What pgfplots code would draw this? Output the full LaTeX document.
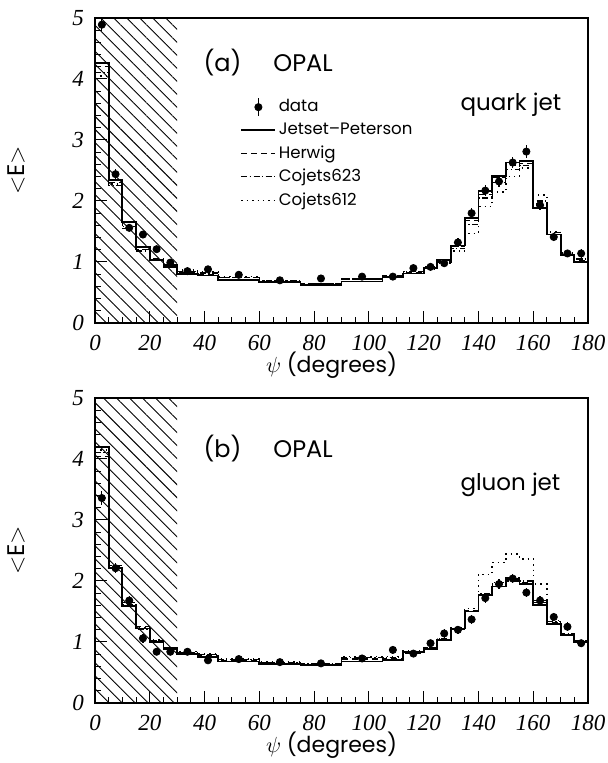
\documentclass[border=0pt]{standalone}
\usepackage{pgfplots}
\pgfplotsset{compat=1.18}
\usepackage{pgfplotstable}
\usetikzlibrary{patterns.meta}
\usepackage{fontspec}
\setmainfont{Liberation Serif}
\newfontfamily\sfont{Poppins}

% model histograms: left bin edges, last row repeats the last bin at 180
\pgfplotstableread{
e     jet   her   ca    cb
0     4.26  4.20  4.10  4.05
5     2.34  2.30  2.25  2.28
10    1.66  1.60  1.55  1.58
15    1.25  1.20  1.18  1.20
20    1.03  1.05  1.02  1.03
25    0.92  0.93  0.95  0.95
30    0.80  0.83  0.85  0.87
37.5  0.78  0.80  0.82  0.84
45    0.70  0.74  0.75  0.76
60    0.67  0.68  0.70  0.70
75    0.62  0.64  0.65  0.64
90    0.68  0.72  0.72  0.72
105   0.76  0.78  0.78  0.78
112.5 0.81  0.83  0.84  0.84
120   0.90  0.90  0.92  0.88
125   1.04  1.02  1.00  0.98
130   1.27  1.25  1.22  1.18
135   1.72  1.68  1.62  1.47
140   2.17  2.10  2.05  1.91
145   2.41  2.38  2.30  2.15
150   2.63  2.58  2.52  2.40
155   2.66  2.62  2.58  2.54
160   1.88  1.95  2.00  2.10
165   1.45  1.45  1.48  1.50
170   1.11  1.12  1.10  1.15
175   1.00  1.02  1.05  1.05
180   1.00  1.02  1.05  1.05
}\quarkmc

\pgfplotstableread{
x      y     err
2.5    4.89  0.10
7.5    2.44  0.08
12.5   1.56  0.06
17.5   1.45  0.06
22.5   1.21  0.05
27.5   0.99  0.05
33.75  0.85  0.04
41.25  0.88  0.05
52.5   0.79  0.04
67.5   0.70  0.03
82.5   0.73  0.03
97.5   0.76  0.03
108.75 0.76  0.06
116.25 0.90  0.05
122.5  0.92  0.06
127.5  0.98  0.07
132.5  1.32  0.08
137.5  1.80  0.09
142.5  2.17  0.09
147.5  2.32  0.09
152.5  2.63  0.09
157.5  2.81  0.11
162.5  1.93  0.08
167.5  1.41  0.07
172.5  1.14  0.06
177.5  1.14  0.07
}\quarkdata

\pgfplotstableread{
e     jet   her   ca    cb
0     4.20  4.04  4.10  4.15
5     2.21  2.25  2.20  2.23
10    1.59  1.65  1.62  1.60
15    1.22  1.25  1.20  1.24
20    1.00  1.02  1.02  1.03
25    0.88  0.90  0.90  0.90
30    0.80  0.82  0.83  0.84
37.5  0.76  0.78  0.80  0.80
45    0.68  0.70  0.71  0.72
60    0.64  0.66  0.66  0.67
75    0.62  0.63  0.64  0.64
90    0.68  0.72  0.74  0.76
105   0.70  0.73  0.75  0.76
112.5 0.84  0.82  0.83  0.85
120   0.88  0.90  0.90  0.90
125   1.03  1.05  1.04  1.05
130   1.22  1.22  1.20  1.23
135   1.50  1.52  1.50  1.55
140   1.77  1.78  1.80  2.11
145   1.91  1.95  1.98  2.30
150   2.03  2.00  2.05  2.44
155   1.95  1.98  2.00  2.36
160   1.61  1.65  1.68  1.95
165   1.30  1.32  1.33  1.35
170   1.11  1.12  1.13  1.12
175   1.00  1.00  1.02  1.02
180   1.00  1.00  1.02  1.02
}\gluonmc

\pgfplotstableread{
x      y     err
2.5    3.36  0.12
7.5    2.21  0.08
12.5   1.68  0.08
17.5   1.06  0.07
22.5   0.84  0.06
27.5   0.84  0.05
33.75  0.84  0.04
41.25  0.70  0.05
52.5   0.72  0.03
67.5   0.67  0.03
82.5   0.65  0.03
97.5   0.73  0.03
108.75 0.87  0.07
116.25 0.81  0.05
122.5  0.98  0.06
127.5  1.14  0.07
132.5  1.20  0.07
137.5  1.37  0.08
142.5  1.72  0.08
147.5  1.95  0.08
152.5  2.04  0.08
157.5  1.81  0.08
162.5  1.68  0.08
167.5  1.41  0.07
172.5  1.25  0.07
177.5  0.98  0.06
}\gluondata

\tikzset{lbl/.style={anchor=base west, inner sep=0pt}}

\pgfplotsset{
  opal/.style={
    scale only axis, width=246.5pt, height=152.5pt,
    xmin=0, xmax=180, ymin=0, ymax=5,
    xtick={0,20,...,180}, ytick={0,1,...,5},
    minor x tick num=3, minor y tick num=4,
    tick align=inside, xtick pos=bottom, ytick pos=left,
    major tick length=6pt, minor tick length=3pt,
    axis line style={line width=0.8pt},
    tick style={line width=0.5pt, black},
    tick label style={font=\fontsize{11.5}{12}\selectfont\itshape},
    xticklabel style={yshift=-2.5pt},
    yticklabel style={xshift=-2pt},
    /pgf/number format/assume math mode=true,
    ylabel={\sfont\fontsize{12}{12}\selectfont$<$E$>$},
    ylabel style={at={(axis description cs:-0.16,0.5)}, anchor=center},
    xlabel={\fontsize{11}{12}\selectfont$\psi$ \sfont(degrees)},
    xlabel style={at={(axis description cs:0.48,-0.138)}, anchor=center},
    clip=true,
  },
  hist/.style={const plot mark left, no marks, black},
  jet/.style={hist, line width=0.9pt},
  her/.style={hist, line width=0.6pt, dash pattern=on 3pt off 2pt},
  ca/.style={hist, line width=0.6pt, dash pattern=on 3pt off 1.2pt on 0.7pt off 1.2pt},
  cb/.style={hist, line width=0.7pt, dash pattern=on 0.7pt off 2pt},
  dat/.style={only marks, black, mark=*, mark size=1.8pt,
    error bars/.cd, y dir=both, y explicit, error mark=none,
    error bar style={line width=0.6pt}},
  hatch/.style={forget plot, draw=none,
    pattern={Lines[angle=-45, distance=4.6pt, line width=0.45pt]}},
}

\begin{document}
\begin{tikzpicture}
\useasboundingbox (0,0) rectangle (304pt,381.5pt);

\begin{axis}[opal, at={(47.5pt,220pt)}, anchor=south west,
  legend style={at={(0.282,0.755)}, anchor=north west, draw=none, fill=none,
    font=\sfont\fontsize{8.3}{9}\selectfont, row sep=1.6pt,
    nodes={inner sep=1.2pt}},
  legend cell align=left]
  \addplot[hatch] coordinates {(0,5) (30,5)} \closedcycle;
  \addplot[legend image code/.code={
      \draw[line width=0.6pt] (0.3cm,-4.5pt) -- (0.3cm,4.5pt);
      \fill (0.3cm,0) circle (1.8pt);}, dat]
    table[x=x, y=y, y error=err] {\quarkdata};
  \addlegendentry{data}
  \addplot[jet] table[x=e, y=jet] {\quarkmc};
  \addlegendentry{Jetset–Peterson}
  \addplot[her] table[x=e, y=her] {\quarkmc};
  \addlegendentry{Herwig}
  \addplot[ca] table[x=e, y=ca] {\quarkmc};
  \addlegendentry{Cojets623}
  \addplot[cb] table[x=e, y=cb] {\quarkmc};
  \addlegendentry{Cojets612}
  \node[lbl, font=\sfont\fontsize{12}{12}\selectfont] at (axis cs:39.5,4.12) {(a)};
  \node[lbl, font=\sfont\fontsize{12}{12}\selectfont] at (axis cs:65,4.12) {OPAL};
  \node[lbl, font=\sfont\fontsize{11.5}{12}\selectfont] at (axis cs:133.3,3.49) {quark jet};
\end{axis}

\begin{axis}[opal, at={(47.5pt,30pt)}, anchor=south west]
  \addplot[hatch] coordinates {(0,5) (30,5)} \closedcycle;
  \addplot[dat] table[x=x, y=y, y error=err] {\gluondata};
  \addplot[jet] table[x=e, y=jet] {\gluonmc};
  \addplot[her] table[x=e, y=her] {\gluonmc};
  \addplot[ca] table[x=e, y=ca] {\gluonmc};
  \addplot[cb] table[x=e, y=cb] {\gluonmc};
  \node[lbl, font=\sfont\fontsize{12}{12}\selectfont] at (axis cs:39.5,4.03) {(b)};
  \node[lbl, font=\sfont\fontsize{12}{12}\selectfont] at (axis cs:65,4.03) {OPAL};
  \node[lbl, font=\sfont\fontsize{11.5}{12}\selectfont] at (axis cs:133.3,3.49) {gluon jet};
\end{axis}
\end{tikzpicture}
\end{document}
